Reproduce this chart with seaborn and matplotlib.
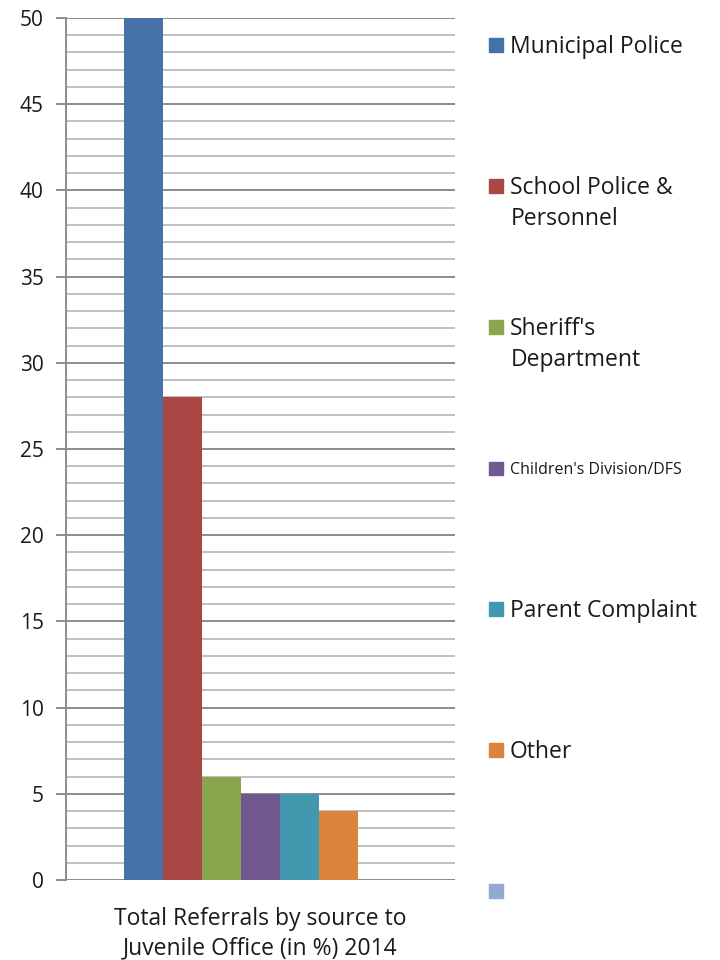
import pandas as pd
import matplotlib.pyplot as plt
import matplotlib.patches as mpatches
import seaborn as sns

# chart data
group = 'Total Referrals by source to\nJuvenile Office (in %) 2014'
sources = ['Municipal Police', 'School Police &\nPersonnel', "Sheriff's\nDepartment",
           "Children's Division/DFS", 'Parent Complaint', 'Other', ' ']
values = [50, 28, 6, 5, 5, 4, 0]
colors = ['#4572A7', '#AA4643', '#89A54E', '#71588F', '#4198AF', '#DB843D', '#93A9CF']

df = pd.DataFrame({'group': [group] * len(sources), 'source': sources, 'value': values})

sns.set_style('white')
plt.rcParams['font.family'] = ['Open Sans', 'DejaVu Sans']

fig = plt.figure(figsize=(7.2, 9.6), dpi=100)
ax = fig.add_axes([66 / 720, 80 / 960, 389 / 720, 862 / 960])

sns.barplot(data=df, x='group', y='value', hue='source', hue_order=sources,
            palette=colors, width=0.7, gap=0, saturation=1, linewidth=0,
            ax=ax, legend=False)

# gridlines: minor every 1, major every 5
ax.set_ylim(0, 50)
ax.set_xlim(-0.5, 0.5)
ax.set_yticks(range(0, 51, 5))
ax.set_yticks(range(0, 51, 1), minor=True)
ax.grid(which='minor', axis='y', color='#c0c0c0', lw=1.4)
ax.grid(which='major', axis='y', color='#8c8c8c', lw=1.4)
ax.set_axisbelow(True)
for s in ['top', 'right', 'bottom']:
    ax.spines[s].set_visible(False)
ax.spines['left'].set_color('#8c8c8c')
ax.spines['left'].set_linewidth(1.4)
ax.tick_params(axis='y', which='major', left=True, length=7, width=1.4, color='#8c8c8c',
               labelsize=15, pad=9, labelcolor='#1a1a1a')
ax.tick_params(axis='y', which='minor', left=False)
ax.tick_params(axis='x', bottom=False, labelsize=16.5, pad=16, labelcolor='#1a1a1a')
for t in ax.get_xticklabels():
    t.set_linespacing(1.3)
ax.set_xlabel('')
ax.set_ylabel('')

# legend at right: one entry per slot, first line next to the marker
for i, (src, col) in enumerate(zip(sources, colors)):
    lines = src.split('\n')
    y = 47 + i * 141
    size = 11.5 if src.startswith('Children') else 16.5
    px = size * 100 / 72
    leg = fig.legend(handles=[mpatches.Patch(color=col, label=lines[0])],
                     loc='center left', bbox_to_anchor=(489 / 720, 1 - y / 960),
                     frameon=False, fontsize=size, handlelength=14 / px,
                     handleheight=14 / px, handletextpad=7 / px,
                     borderaxespad=0, borderpad=0)
    leg.get_texts()[0].set_color('#1a1a1a')
    for k, extra in enumerate(lines[1:], start=1):
        fig.text(511 / 720, 1 - (y + 31 * k) / 960, extra, fontsize=size,
                 va='center', ha='left', color='#1a1a1a')

fig.savefig('out.png', dpi=100)
